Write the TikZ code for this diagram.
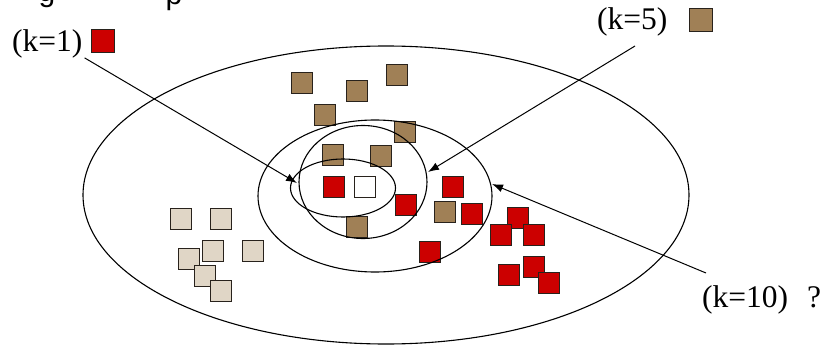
\documentclass[tikz,border=0pt]{standalone}
\usepackage{fontspec}
\setmainfont{Liberation Serif}
\newfontfamily\headfont{Liberation Sans}
\usetikzlibrary{shapes.geometric,arrows.meta}

\definecolor{kred}{RGB}{204,0,0}
\definecolor{kbrown}{RGB}{160,128,86}
\definecolor{kbeige}{RGB}{224,214,198}
\definecolor{kedge}{RGB}{40,34,28}

\begin{document}
\begin{tikzpicture}[x=1pt,y=-1pt,
  sq/.style={rectangle, draw=kedge, line width=1.2pt, minimum size=21pt, inner sep=0pt, outer sep=0pt},
  redsq/.style={sq, fill=kred},
  brownsq/.style={sq, fill=kbrown},
  beigesq/.style={sq, fill=kbeige},
  querysq/.style={sq, fill=white},
  ring/.style={ellipse, draw=black, line width=1.1pt, inner sep=0pt, outer sep=0pt},
  pointer/.style={-{Latex[length=11pt,width=8pt]}, line width=1pt},
  klabel/.style={anchor=base west, inner sep=0pt, font=\fontsize{31.5}{31.5}\selectfont},
  headtxt/.style={anchor=base, inner sep=0pt, font=\headfont\fontsize{30}{30}\selectfont}
]
\useasboundingbox (0,0) rectangle (820,345);
\clip (0,0) rectangle (820,345);

% heading line above the frame, only its descenders fall inside
\node[headtxt] (hg) at (47,1.5) {g};
\node[headtxt] (hp) at (174,5) {p};

% class: beige
\node[beigesq] (b1) at (181,219) {};
\node[beigesq] (b2) at (221,219) {};
\node[beigesq] (b3) at (253,251) {};
\node[beigesq] (b4) at (189,259) {};
\node[beigesq] (b5) at (213,251) {};
\node[beigesq] (b6) at (205,276) {};
\node[beigesq] (b7) at (221,291) {};

% class: brown
\node[brownsq] (w1) at (302,83) {};
\node[brownsq] (w2) at (357,91) {};
\node[brownsq] (w3) at (397,75) {};
\node[brownsq] (w4) at (325,115) {};
\node[brownsq] (w5) at (405,132) {};
\node[brownsq] (w6) at (333,155) {};
\node[brownsq] (w7) at (381,156) {};
\node[brownsq] (w8) at (357,227) {};
\node[brownsq] (w9) at (445,212) {};

% class: red
\node[redsq] (r1) at (334,187) {};
\node[redsq] (r2) at (406,205) {};
\node[redsq] (r3) at (453,187) {};
\node[redsq] (r4) at (472,214) {};
\node[redsq] (r5) at (430,252) {};
\node[redsq] (r6) at (518,218) {};
\node[redsq] (r7) at (501,235) {};
\node[redsq] (r8) at (534,235) {};
\node[redsq] (r9) at (509,275) {};
\node[redsq] (r10) at (534,267) {};
\node[redsq] (r11) at (549,283) {};

% query point
\node[querysq] (q) at (365,187) {};

% neighbourhoods
\node[ring, minimum width=606pt, minimum height=298pt] (eall) at (386,195) {};
\node[ring, minimum width=234pt, minimum height=152pt] (e10) at (375,196) {};
\node[ring, minimum width=128pt, minimum height=113pt] (e5) at (363,182) {};
\node[ring, minimum width=105pt, minimum height=58pt] (e1) at (343,188) {};

% labels
\node[klabel] (k1) at (12,52) {(k=1)};
\node[sq, fill=kred, minimum size=23pt] (k1sq) at (103,41) {};
\node[klabel] (k5) at (597,30) {(k=5)};
\node[sq, fill=kbrown, minimum size=23pt] (k5sq) at (701,20) {};
\node[klabel] (k10) at (702,307) {(k=10)\hspace{19pt}?};

% arrow tips on the neighbourhood borders
\coordinate (t1) at (297,183);
\coordinate (t5) at (428,172);
\coordinate (t10) at (492,184);

\draw[pointer] ([shift={(2,-1)}]k1.south east) -- (t1);
\draw[pointer] ([shift={(38,16)}]k5.base west) -- (t5);
\draw[pointer] ([shift={(4,-34)}]k10.base west) -- (t10);
\end{tikzpicture}
\end{document}
